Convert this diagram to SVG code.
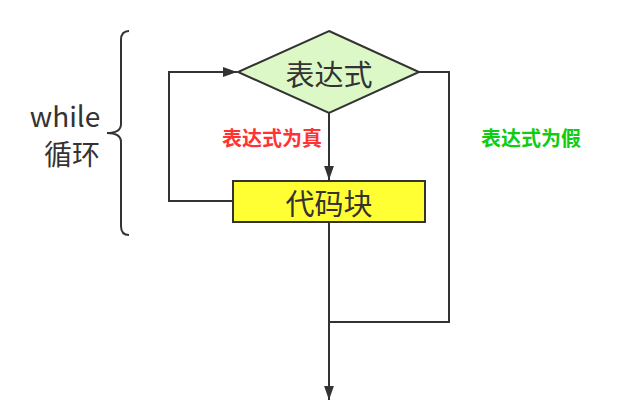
<svg xmlns="http://www.w3.org/2000/svg" width="632" height="419" viewBox="0 0 632 419">
<style>
.ln{fill:none;stroke:#333;stroke-width:2}
.t{font-family:"Noto Sans CJK SC","Noto Sans",sans-serif;fill:#333}
.lb{font-family:"Noto Sans CJK SC",sans-serif;font-weight:bold;font-size:20px}
</style>
<defs>
<marker id="ar2" viewBox="0 0 10 10" refX="10" refY="5" markerWidth="14" markerHeight="14" markerUnits="userSpaceOnUse" orient="auto">
<path d="M0,1.5 L10,5 L0,8.5 Z" fill="#333"/>
</marker>
</defs>
<g id="connectors">
<polyline class="ln" points="233,201 169,201 169,72 237,72" marker-end="url(#ar2)"/>
<line class="ln" x1="329" y1="113" x2="329" y2="180" marker-end="url(#ar2)"/>
<polyline class="ln" points="419,72 449,72 449,322 329,322"/>
<line class="ln" x1="329" y1="222" x2="329" y2="400" marker-end="url(#ar2)"/>
</g>
<g id="cond">
<polygon points="329,31 419,72 329,113 238,72" fill="#dcf8c6" stroke="#333" stroke-width="2"/>
<text class="t" x="329" y="86" font-size="29" text-anchor="middle">表达式</text>
</g>
<g id="block">
<rect x="233" y="181" width="192" height="41" fill="#ffff33" stroke="#333" stroke-width="2"/>
<text class="t" x="329" y="215" font-size="29" text-anchor="middle">代码块</text>
</g>
<g id="label-true">
<text class="lb" x="272" y="146" fill="#ff3333" text-anchor="middle">表达式为真</text>
</g>
<g id="label-false">
<text class="lb" x="531" y="146" fill="#11cc11" text-anchor="middle">表达式为假</text>
</g>
<g id="brace">
<path class="ln" d="M129,31 Q121,31 121,40 L121,124 Q121,133 107,133 Q121,133 121,142 L121,226 Q121,235 129,235"/>
<text class="t" x="65" y="127" font-size="28" text-anchor="middle">while</text>
<text class="t" x="72" y="165" font-size="28" text-anchor="middle">循环</text>
</g>
</svg>
